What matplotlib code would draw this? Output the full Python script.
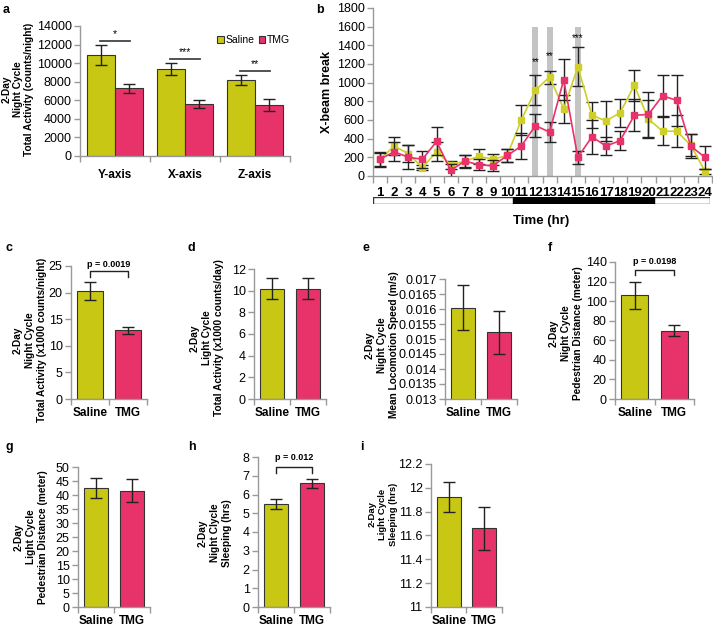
import matplotlib
matplotlib.use("Agg")
import matplotlib.pyplot as plt
import numpy as np

plt.rcParams['font.family'] = ['Liberation Sans', 'DejaVu Sans']

W, H = 713, 626
SAL = '#c8c814'
TMG = '#e8336a'
SAL_LINE = '#cfcf2a'
SPINE = '#999999'

# ---------------- data ----------------
groups = ['Saline', 'TMG']
a_cats = ['Y-axis', 'X-axis', 'Z-axis']
a_sal = [10900, 9400, 8200]
a_sal_err = [1100, 650, 550]
a_tmg = [7300, 5600, 5500]
a_tmg_err = [500, 450, 600]
a_sig = ['*', '***', '**']
a_sig_y = [12400, 10450, 9200]

hours = list(range(1, 25))
b_sal = [180, 320, 240, 90, 260, 120, 160, 210, 180, 220, 600, 920,
         1060, 720, 1170, 650, 590, 680, 970, 610, 480, 480, 330, 50]
b_sal_err = [80, 100, 90, 30, 100, 40, 60, 80, 60, 70, 160, 160,
             70, 150, 210, 140, 210, 150, 170, 200, 150, 170, 120, 30]
b_tmg = [180, 260, 200, 180, 370, 60, 160, 120, 110, 220, 320, 540,
         470, 1030, 200, 420, 320, 380, 650, 660, 860, 810, 320, 200]
b_tmg_err = [70, 100, 130, 90, 150, 70, 70, 60, 60, 70, 140, 120,
             110, 220, 70, 180, 100, 100, 170, 240, 220, 270, 130, 120]
b_sig_hours = [12, 13, 15]
b_sig_text = ['**', '**', '***']
b_sig_y = [1170, 1230, 1420]

c_vals = [20.3, 12.9]; c_err = [1.7, 0.7]
d_vals = [10.2, 10.2]; d_err = [1.0, 1.0]
e_vals = [0.01605, 0.01522]; e_err = [0.00075, 0.00073]
f_vals = [106, 70]; f_err = [14, 6]
g_vals = [42.5, 41.6]; g_err = [3.5, 4.0]
h_vals = [5.5, 6.6]; h_err = [0.25, 0.25]
i_vals = [11.92, 11.66]; i_err = [0.125, 0.18]

fig = plt.figure(figsize=(W / 100, H / 100), dpi=100)


def box(x0, y0, x1, y1):
    return fig.add_axes([x0 / W, 1 - y1 / H, (x1 - x0) / W, (y1 - y0) / H])


def style(ax):
    for s in ['top', 'right']:
        ax.spines[s].set_visible(False)
    for s in ['left', 'bottom']:
        ax.spines[s].set_color(SPINE)
        ax.spines[s].set_linewidth(1.0)
    ax.tick_params(axis='y', colors=SPINE, labelcolor='black', labelsize=9,
                   length=4, width=1, direction='out', pad=2)
    ax.tick_params(axis='x', which='both', colors=SPINE, labelcolor='black',
                   length=4, width=1, direction='out')


def ftext(x, y, s, **kw):
    fig.text(x / W, 1 - y / H, s, **kw)


EKW = dict(ecolor='#222222', elinewidth=1, capthick=1)

# ---------------- panel a ----------------
ax = box(80, 26, 290, 156)
style(ax)
x = np.arange(len(a_cats))
bw = 0.4
ax.bar(x - bw / 2, a_sal, bw, color=SAL, edgecolor='#333333', linewidth=0.8,
       yerr=a_sal_err, capsize=4, error_kw=EKW, label='Saline')
ax.bar(x + bw / 2, a_tmg, bw, color=TMG, edgecolor='#333333', linewidth=0.8,
       yerr=a_tmg_err, capsize=4, error_kw=EKW, label='TMG')
ax.set_xlim(-0.5, 2.5)
ax.set_ylim(0, 14000)
ax.set_yticks(range(0, 14001, 2000))
ax.set_xticks(x)
ax.set_xticklabels(a_cats, fontweight='bold', fontsize=8.5)
ax.tick_params(axis='x', which='major', length=0, pad=9)
ax.set_xticks(np.arange(-0.5, 3, 1), minor=True)
for i in range(3):
    ax.plot([x[i] - 0.21, x[i] + 0.21], [a_sig_y[i]] * 2, color='#444444', lw=1.3)
    ax.text(x[i], a_sig_y[i] + 200, a_sig[i], ha='center', va='bottom', fontsize=7.5)
leg = ax.legend(loc='upper right', bbox_to_anchor=(1.02, 0.96), ncol=2, frameon=False,
                fontsize=7.5, handlelength=0.65, handleheight=0.65, handletextpad=0.15,
                columnspacing=0.4, borderaxespad=0)
for p in leg.get_patches():
    p.set_edgecolor('#333333')
ftext(18, 89, '2-Day\nNight Cycle\nTotal Activity (counts/night)', rotation=90,
      ha='center', va='center', fontsize=7.3, fontweight='bold', multialignment='center',
      linespacing=1.15)
ftext(3, 10, 'a', fontsize=9, fontweight='bold', ha='left', va='center')

# ---------------- panel b ----------------
ax = box(373, 8, 712, 176)
style(ax)
for hh in b_sig_hours:
    ax.bar(hh, 1600, 0.42, color='#c4c4c4', zorder=0, linewidth=0)
ax.errorbar(hours, b_sal, yerr=b_sal_err, color=SAL_LINE, lw=1.2, marker='s',
            markersize=4.5, ecolor='#222222', elinewidth=1, capsize=4, capthick=1, zorder=3)
ax.errorbar(hours, b_tmg, yerr=b_tmg_err, color=TMG, lw=1.2, marker='s',
            markersize=4.5, ecolor='#222222', elinewidth=1, capsize=4, capthick=1, zorder=4)
for hh, t, yy in zip(b_sig_hours, b_sig_text, b_sig_y):
    ax.text(hh, yy, t, ha='center', va='bottom', fontsize=7)
ax.set_xlim(0.5, 24.5)
ax.set_ylim(0, 1800)
ax.set_yticks(range(0, 1801, 200))
ax.set_xticks(hours)
ax.set_xticklabels([str(h) for h in hours], fontweight='bold', fontsize=9.5)
ax.tick_params(axis='x', which='major', length=0, pad=8)
ax.set_xticks(np.arange(0.5, 25, 1), minor=True)
ax.tick_params(axis='x', which='minor', length=5)
ftext(327, 92, 'X-beam break', rotation=90, fontsize=9, fontweight='bold',
      ha='center', va='center')
# light/dark cycle bar
lb = box(373, 197, 710, 204)
lb.set_xlim(0.5, 24.5)
lb.set_ylim(0, 1)
lb.axis('off')
lb.add_patch(plt.Rectangle((0.5, 0), 24, 1, facecolor='white', edgecolor='#333333', lw=1))
lb.add_patch(plt.Rectangle((10.5, 0), 10, 1, facecolor='black', edgecolor='black', lw=1))
ftext(541, 221, 'Time (hr)', fontsize=9.5, fontweight='bold', ha='center', va='center')
ftext(316, 10, 'b', fontsize=9, fontweight='bold', ha='left', va='center')


# ---------------- small panels ----------------
def small(box_px, vals, errs, ylim, yticks, ylab, lab_xy, panel, panel_xy,
          ticklabels=None, bracket=None, labsize=7.3):
    ax = box(*box_px)
    style(ax)
    xx = np.arange(2)
    ax.bar(xx, vals, 0.68, color=[SAL, TMG], edgecolor='#333333', linewidth=0.8,
           yerr=errs, capsize=4, error_kw=EKW)
    ax.set_xlim(-0.5, 1.5)
    ax.set_ylim(*ylim)
    ax.set_yticks(yticks)
    if ticklabels is not None:
        ax.set_yticklabels(ticklabels)
    ax.set_xticks(xx)
    ax.set_xticklabels(groups, fontweight='bold', fontsize=8.5)
    ax.tick_params(axis='x', which='major', length=0, pad=6)
    ax.set_xticks([-0.5, 0.5, 1.5], minor=True)
    if bracket is not None:
        ytop, yleg, ptxt, ptxt_y = bracket
        ax.plot([0, 0, 1, 1], [yleg, ytop, ytop, yleg], color='#222222', lw=1,
                clip_on=False)
        ax.text(0.5, ptxt_y, ptxt, ha='center', va='bottom', fontsize=6.5,
                fontweight='bold', clip_on=False)
    ftext(lab_xy[0], lab_xy[1], ylab, rotation=90, ha='center', va='center',
          fontsize=labsize, fontweight='bold', multialignment='center', linespacing=1.25)
    ftext(panel_xy[0], panel_xy[1], panel, fontsize=9, fontweight='bold',
          ha='left', va='center')
    return ax


small((71, 266, 147, 399), c_vals, c_err, (0, 25), range(0, 26, 5),
      '2-Day\nNight Cycle\nTotal Activity (x1000 counts/night)', (30, 340), 'c', (5, 248),
      bracket=(24.0, 23.0, 'p = 0.0019', 24.4))
small((254, 269, 326, 399), d_vals, d_err, (0, 12), range(0, 13, 2),
      '2-Day\nLight Cycle\nTotal Activity (x1000 counts/day)', (207, 338), 'd', (188, 248))
e_ticks = [0.013, 0.0135, 0.014, 0.0145, 0.015, 0.0155, 0.016, 0.0165, 0.017]
small((445, 279, 517, 399), e_vals, e_err, (0.013, 0.017), e_ticks,
      '2-Day\nNight Cycle\nMean Locomotion Speed (m/s)', (382, 345), 'e', (362, 248),
      ticklabels=['0.013', '0.0135', '0.014', '0.0145', '0.015', '0.0155', '0.016',
                  '0.0165', '0.017'])
small((615, 262, 694, 399), f_vals, f_err, (0, 140), range(0, 141, 20),
      '2-Day\nNight Cycle\nPedestrian Distance (meter)', (566, 333), 'f', (548, 248),
      bracket=(132, 127, 'p = 0.0198', 136))
small((78, 467, 150, 607), g_vals, g_err, (0, 50), range(0, 51, 5),
      '2-Day\nLight Cycle\nPedestrian Distance (meter)', (31, 537), 'g', (5, 447))
small((258, 457, 330, 607), h_vals, h_err, (0, 8), range(0, 9, 1),
      '2-Day\nNight Clycle\nSleeping (hrs)', (215, 533), 'h', (188, 447),
      bracket=(7.47, 7.15, 'p = 0.012', 7.75))
small((431, 464, 502, 607), i_vals, i_err, (11, 12.2), [11, 11.2, 11.4, 11.6, 11.8, 12, 12.2],
      '2-Day\nLight Cycle\nSleeping (hrs)', (383, 514), 'i', (360, 447),
      ticklabels=['11', '11.2', '11.4', '11.6', '11.8', '12', '12.2'], labsize=6.8)

fig.savefig('out.png', dpi=100)
